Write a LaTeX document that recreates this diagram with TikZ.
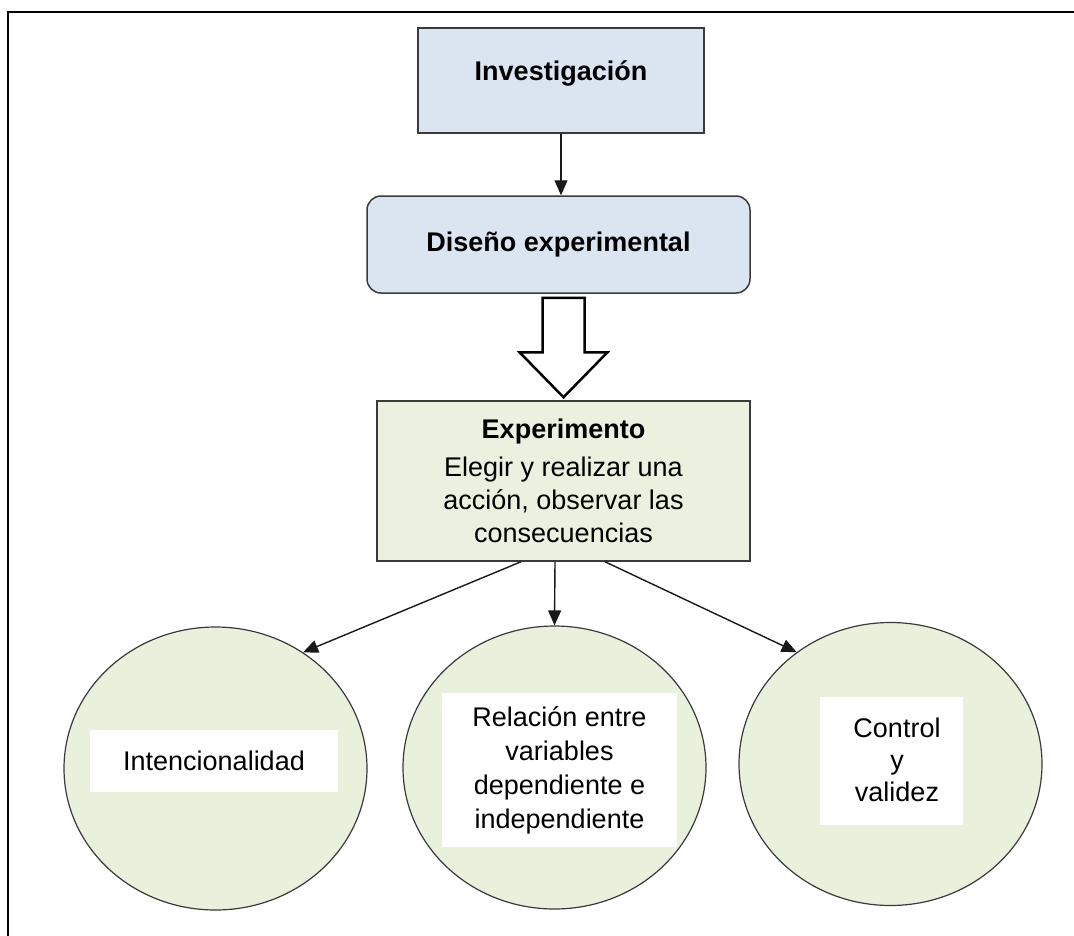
\documentclass[tikz,border=0pt]{standalone}
\usepackage{fontspec}
\setmainfont{Liberation Sans}
\usetikzlibrary{shapes.geometric,arrows.meta,calc}
\definecolor{boxblue}{HTML}{DBE5F1}
\definecolor{boxgreen}{HTML}{EBF1DE}
\definecolor{bubblegreen}{HTML}{E9F0DC}
\definecolor{edgegray}{HTML}{3A3A3A}
\begin{document}
\begin{tikzpicture}[x=1pt,y=-1pt,
  every node/.style={font=\fontsize{27}{33}\selectfont, inner sep=0pt},
  stagebox/.style={draw=edgegray, line width=1.5pt, fill=boxblue},
  expbox/.style={draw=edgegray, line width=1.5pt, fill=boxgreen, align=center},
  bubble/.style={ellipse, draw=edgegray, line width=1.2pt, fill=bubblegreen,
    minimum width=303pt, minimum height=283pt},
  tagbox/.style={fill=white, align=center},
  link/.style={line width=1.4pt, draw=black!90, -{Triangle[length=15pt,width=13pt]}},
  hollow/.style={line width=2.5pt, draw=black, fill=white, line join=miter}
]
\useasboundingbox (0,0) rectangle (1074,935);

% outer frame (top and left edges)
\draw[line width=2pt] (8,940) -- (8,12) -- (1080,12);

% top stages
\node[stagebox, minimum width=286pt, minimum height=105pt] (inv) at (561,80.5) {};
\node[font=\fontsize{27}{33}\selectfont\bfseries] (invt) at (561,73) {Investigación};
\node[stagebox, rounded corners=14pt, minimum width=383pt, minimum height=97pt,
  font=\fontsize{27}{33}\selectfont\bfseries] (dis) at (558.5,244.5) {Diseño experimental};

% experiment box
\node[expbox, minimum width=373pt, minimum height=160pt] (exp) at (563.5,481)
  {\textbf{Experimento}\\[5pt]Elegir y realizar una\\acción, observar las\\consecuencias};

% arrow between the first two stages
\draw[link] (inv.south) -- (inv.south |- dis.north);

% hollow block arrow down to the experiment
\coordinate (bt) at ([yshift=-4pt]dis.south -| exp.north);
\coordinate (bh) at ([yshift=3pt]exp.north);
\draw[hollow] ($(bt)+(-21,0)$) -- ($(bt)+(21,0)$) -- ($(bh)+(21,-45)$)
  -- ($(bh)+(44,-45)$) -- (bh) -- ($(bh)+(-44,-45)$) -- ($(bh)+(-21,-45)$) -- cycle;

% the three characteristics
\node[bubble] (c1) at (215.5,768.5) {};
\node[bubble] (c2) at (554.5,767.5) {};
\node[bubble] (c3) at (890.5,764) {};

\node[tagbox, minimum width=248pt, minimum height=62pt] (t1) at (214,761) {Intencionalidad};
\node[tagbox, minimum width=235pt, minimum height=154pt,
  font=\fontsize{27}{34}\selectfont] (t2) at (559.5,770)
  {Relación entre\\variables\\dependiente e\\independiente};
\node[tagbox, minimum width=143pt, minimum height=128pt,
  font=\fontsize{27}{32}\selectfont] (t3) at (891.5,761) {};
\node[align=center, font=\fontsize{27}{32}\selectfont] (t3t) at (897,760) {Control\\y\\validez};

% arrows from the experiment
\draw[link] ([xshift=-42.5pt]exp.south) -- (c1.53);
\draw[link] ([xshift=-8.5pt]exp.south) -- (c2.north);
\draw[link] ([xshift=41.5pt]exp.south) -- (c3.130.6);
\end{tikzpicture}
\end{document}
